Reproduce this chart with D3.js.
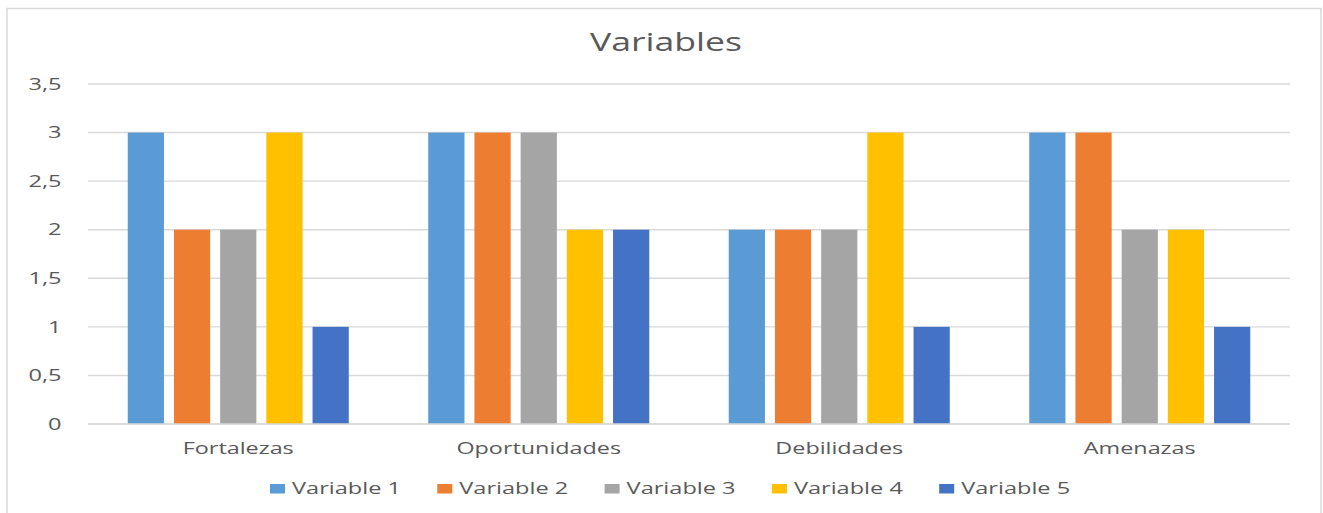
<!DOCTYPE html>
<html>
<head>
<meta charset="utf-8">
<script src="https://cdn.jsdelivr.net/npm/d3@7"></script>
<style>
  body { margin: 0; background: #fff; }
  text { font-family: "Open Sans", sans-serif; fill: #595959; }
</style>
</head>
<body>
<div id="wrapper"></div>
<script>
const categories = ["Fortalezas", "Oportunidades", "Debilidades", "Amenazas"];
const seriesNames = ["Variable 1", "Variable 2", "Variable 3", "Variable 4", "Variable 5"];
const seriesColors = ["#5B9BD5", "#ED7D31", "#A5A5A5", "#FFC000", "#4472C4"];
const variable1 = [3, 3, 2, 3];
const variable2 = [2, 3, 2, 3];
const variable3 = [2, 3, 2, 2];
const variable4 = [3, 2, 3, 2];
const variable5 = [1, 2, 1, 1];
const yTicks = [0, 0.5, 1, 1.5, 2, 2.5, 3, 3.5];

function buildPlot() {
    const seriesValues = [variable1, variable2, variable3, variable4, variable5];

    var dimension = {
        width: 1323,
        height: 513,
        margin: { top: 84, left: 88, bottom: 89, right: 33 }
    };
    dimension.boundedWidth = dimension.width - dimension.margin.left - dimension.margin.right;
    dimension.boundedHeight = dimension.height - dimension.margin.top - dimension.margin.bottom;

    const svg = d3.select("#wrapper").append("svg")
        .attr("width", dimension.width)
        .attr("height", dimension.height);

    // the chart area border, runs off the bottom of the picture
    svg.append("rect")
        .attr("x", 7).attr("y", 8.5)
        .attr("width", 1314).attr("height", 520)
        .attr("fill", "none")
        .attr("stroke", "#d9d9d9")
        .attr("stroke-width", 1.5);

    // text in the reference is drawn wider than the font, stretch it
    // sx is taken from one reference label, then used for the whole group
    function stretch(sel, refNode, targetWidth) {
        const sx = targetWidth / refNode.getComputedTextLength();
        sel.each(function () {
            const w = this.getComputedTextLength();
            d3.select(this).attr("textLength", w * sx).attr("lengthAdjust", "spacingAndGlyphs");
        });
    }

    const title = svg.append("text")
        .attr("x", 666).attr("y", 50.5)
        .attr("text-anchor", "middle")
        .style("font-size", "25px")
        .text("Variables");
    stretch(title, title.node(), 152);

    const bounded = svg.append("g")
        .attr("transform", `translate(${dimension.margin.left},${dimension.margin.top})`);

    const yScaler = d3.scaleLinear()
        .domain([0, 3.5])
        .range([dimension.boundedHeight, 0]);

    const x0 = d3.scaleBand()
        .domain(categories)
        .range([0, dimension.boundedWidth]);

    const x1 = d3.scaleBand()
        .domain(seriesNames)
        .range([0, x0.bandwidth()])
        .paddingInner(0.216)
        .paddingOuter(0.86);

    // gridlines
    bounded.append("g")
        .selectAll("line")
        .data(yTicks)
        .join("line")
        .attr("x1", 0).attr("x2", dimension.boundedWidth)
        .attr("y1", d => yScaler(d)).attr("y2", d => yScaler(d))
        .attr("stroke", "#d9d9d9")
        .attr("stroke-width", 1.4);

    const yLabels = bounded.append("g")
        .selectAll("text")
        .data(yTicks)
        .join("text")
        .attr("x", -26.5)
        .attr("y", d => yScaler(d))
        .attr("dy", "0.36em")
        .attr("text-anchor", "end")
        .style("font-size", "16px")
        .text(d => String(d).replace(".", ","));
    stretch(yLabels, yLabels.filter(d => d === 2.5).node(), 33);

    const groups = bounded.append("g")
        .selectAll("g")
        .data(categories)
        .join("g")
        .attr("transform", d => `translate(${x0(d)},0)`);

    groups.selectAll("rect")
        .data((c, i) => seriesNames.map((s, j) => ({ series: s, value: seriesValues[j][i], color: seriesColors[j] })))
        .join("rect")
        .attr("x", d => x1(d.series))
        .attr("width", x1.bandwidth())
        .attr("y", d => yScaler(d.value))
        .attr("height", d => yScaler(0) - yScaler(d.value))
        .attr("fill", d => d.color);

    // baseline on top of bars
    bounded.append("line")
        .attr("x1", 0).attr("x2", dimension.boundedWidth)
        .attr("y1", yScaler(0)).attr("y2", yScaler(0))
        .attr("stroke", "#d9d9d9")
        .attr("stroke-width", 1.4);

    const catLabels = bounded.append("g")
        .selectAll("text")
        .data(categories)
        .join("text")
        .attr("x", d => x0(d) + x0.bandwidth() / 2)
        .attr("y", yScaler(0) + 30)
        .attr("text-anchor", "middle")
        .style("font-size", "16px")
        .text(d => d);
    stretch(catLabels, catLabels.node(), 111);

    // legend
    const legend = svg.append("g");
    const legendStep = 167.3;
    const items = legend.selectAll("g")
        .data(seriesNames)
        .join("g")
        .attr("transform", (d, i) => `translate(${270 + i * legendStep},484)`);
    items.append("rect")
        .attr("width", 15).attr("height", 9.5)
        .attr("fill", (d, i) => seriesColors[i]);
    const legendText = items.append("text")
        .attr("x", 22).attr("y", 10)
        .style("font-size", "17px")
        .text(d => d);
    stretch(legendText, legendText.node(), 109);
}

buildPlot();
</script>
</body>
</html>
